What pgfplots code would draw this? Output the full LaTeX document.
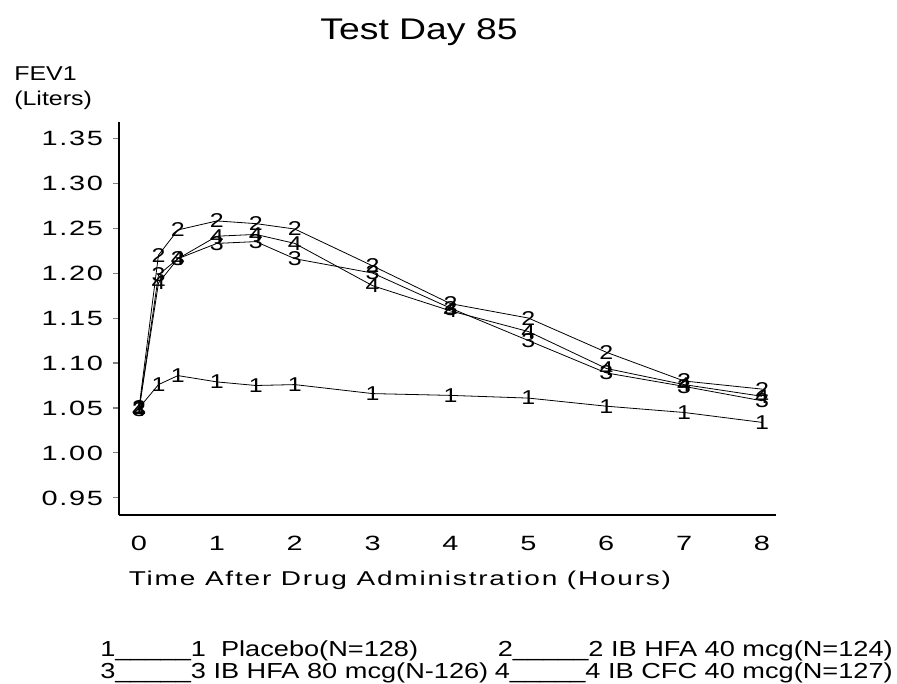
\documentclass[border=0pt]{standalone}
\usepackage{fontspec}
\setmainfont{Liberation Sans}[FakeStretch=1.25]
\newfontfamily\tickfont{Liberation Sans}[FakeStretch=1.4, LetterSpace=8]
\newfontfamily\axfont{Liberation Sans}[FakeStretch=1.4, LetterSpace=9]
\usepackage{pgfplots}
\pgfplotsset{compat=1.18}

\pgfplotstableread{
t     p     h40   h80   c40
0     1.050 1.050 1.048 1.048
0.25  1.076 1.220 1.198 1.189
0.5   1.086 1.248 1.216 1.216
1     1.079 1.258 1.233 1.241
1.5   1.075 1.255 1.235 1.243
2     1.076 1.249 1.216 1.233
3     1.066 1.208 1.200 1.186
4     1.064 1.166 1.161 1.158
5     1.061 1.150 1.125 1.135
6     1.052 1.112 1.089 1.094
7     1.045 1.080 1.074 1.076
8     1.034 1.071 1.058 1.063
}\fevdata

\begin{document}
\begin{tikzpicture}[x=1pt,y=1pt]
\useasboundingbox (0,0) rectangle (672.75,512.25);
\begin{axis}[
  at={(89.25pt,126pt)}, anchor=south west,
  scale only axis, width=492.75pt, height=294.75pt,
  xmin=-0.257, xmax=8.18, ymin=0.931, ymax=1.368,
  axis x line=bottom, axis y line=left,
  axis line style={-, line width=1pt},
  xtick={0,...,8}, xtick style={draw=none},
  ytick={0.95,1.00,...,1.36}, tick align=outside,
  major tick length=4.5pt, ytick style={line width=0.8pt},
  /pgf/number format/assume math mode=true,
  yticklabel={\pgfmathprintnumber[fixed,fixed zerofill,precision=2]{\tick}},
  ticklabel style={font=\tickfont\fontsize{15.5}{18}\selectfont},
  xticklabel style={yshift=-8pt},
  yticklabel style={xshift=-4pt},
  nodes near coords align={center},
  every node near coord/.append style={font=\fontsize{15}{17}\selectfont, anchor=center, inner sep=0pt, black},
  clip=false,
]
\addplot[black, line width=0.6pt, mark=none, nodes near coords={1}] table[x=t,y=p] {\fevdata};
\addplot[black, line width=0.6pt, mark=none, nodes near coords={2}] table[x=t,y=h40] {\fevdata};
\addplot[black, line width=0.6pt, mark=none, nodes near coords={3}] table[x=t,y=h80] {\fevdata};
\addplot[black, line width=0.6pt, mark=none, nodes near coords={4}] table[x=t,y=c40] {\fevdata};
\end{axis}

% titles and labels
\node[font=\fontsize{22.4}{26}\selectfont] at (314.25,488.25) {Test Day 85};
\node[anchor=west, font=\fontsize{15}{18}\selectfont, inner sep=0pt] at (10.5,456.75) {FEV1};
\node[anchor=west, font=\fontsize{15}{18}\selectfont, inner sep=0pt] at (10.5,437.25) {(Liters)};
\node[font=\axfont\fontsize{15}{18}\selectfont] at (300,77.25) {Time After Drug Administration (Hours)};

% legend
\begin{scope}[every node/.style={font=\fontsize{16.3}{19}\selectfont, inner sep=0pt}]
\node[anchor=west] at (75,24) {1\_\_\_\_\_1~~Placebo(N=128)};
\node[anchor=west] at (75,7.5) {3\_\_\_\_\_3 IB HFA 80 mcg(N-126)};
\node[anchor=east] at (669.75,24) {2\_\_\_\_\_2 IB HFA 40 mcg(N=124)};
\node[anchor=east] at (669.75,7.5) {4\_\_\_\_\_4 IB CFC 40 mcg(N=127)};
\end{scope}
\end{tikzpicture}
\end{document}
